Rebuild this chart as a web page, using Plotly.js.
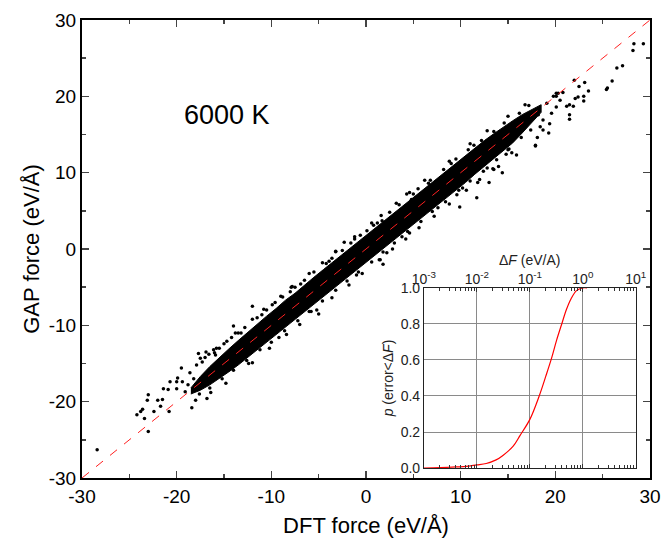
<!DOCTYPE html>
<html><head><meta charset="utf-8">
<script src="https://cdn.plot.ly/plotly-3.0.1.min.js"></script>
<style>html,body{margin:0;padding:0;background:#fff}#c{width:667px;height:552px}</style>
</head><body><div id="c"></div>
<script>
// Dense core of the scatter band (envelope)
var bandX     = [-18.5,-17.5,-16.5,-15.5,-14.5,-13.5,-12.5,-11.5,-10.5,-9.5,-8.5,-7.5,-6.5,-5.5,-4.5,-3.5,-2.5,-1.5,-0.5,0.5,1.5,2.5,3.5,4.5,5.5,6.5,7.5,8.5,9.5,10.5,11.5,12.5,13.5,14.5,15.5,16.5,17.5,18.5];
var bandUpper = [-18.2,-16.7,-15.4,-14.2,-13.1,-12.0,-10.9,-9.9,-8.8,-7.8,-6.7,-5.8,-4.7,-3.7,-2.7,-1.7,-0.7,0.3,1.3,2.3,3.3,4.3,5.3,6.3,7.3,8.2,9.3,10.3,11.2,12.3,13.2,14.2,15.1,16.0,16.8,17.6,18.3,18.9];
var bandLower = [-19.0,-18.5,-17.8,-17.0,-16.1,-15.2,-14.2,-13.3,-12.3,-11.3,-10.3,-9.3,-8.3,-7.3,-6.3,-5.3,-4.3,-3.3,-2.3,-1.3,-0.3,0.7,1.7,2.7,3.7,4.7,5.7,6.7,7.7,8.7,9.8,10.8,11.9,12.9,13.9,15.2,16.5,17.9];
// Individual points around the band (DFT force, GAP force)
var ptsX = [-28.4,-24.2,-23.6,-23.8,-23.4,-23.0,-23.0,-23.1,-22.4,-22.0,-21.7,-21.4,-21.5,-20.8,-20.7,-20.9,-20.0,-19.9,-19.5,-20.0,-19.4,-19.1,-18.4,-18.8,-18.0,-17.9,-17.7,-17.3,-16.9,-17.5,-16.1,-15.9,-14.7,-14.0,-12.0,-9.9,-7.9,-6.9,-5.0,-3.2,-2.3,-1.2,0.1,1.7,2.2,1.5,1.8,4.3,4.6,6.6,4.8,9.9,11.7,9.6,11.8,13.0,13.5,14.0,14.4,15.1,15.9,17.9,19.3,18.7,15.9,14.1,20.1,19.8,19.1,18.2,29.3,28.3,28.2,27.1,26.5,26.0,25.5,25.4,23.5,23.1,22.5,22.0,23.0,23.0,22.4,22.1,21.5,21.2,21.9,21.5,21.5,20.8,20.3,20.1,20.5,20.1,19.6,18.7,18.1,17.9,19.4,
  -16.0,-15.5,-14.2,-13.5,-12.8,-11.5,-10.5,-9.6,-8.8,-7.5,-6.5,-5.5,-4.2,-3.6,-2.5,-1.6,-0.6,0.8,2.5,3.5,5.5,6.8,8.2,9.5,10.8,12.2,13.5,14.6,16.2,17.2,
  -17.6,-16.5,-15.2,-14.0,-12.6,-11.2,-10.0,-8.6,-7.2,-6.0,-4.6,-3.2,-2.0,-0.8,0.6,1.8,3.0,4.4,5.8,7.0,8.4,9.8,11.0,12.4,13.8,15.0,16.4,17.4,
  -18.6,-18.2,-17.0,-16.4,-15.0,-13.2,-12.4,-11.0,-9.2,-8.0,-5.8,-3.9,-1.0,1.2,3.8,5.0,7.6,9.0,10.2,11.4,12.8,14.8,16.8,18.4,
  -16.6,-15.8,-13.8,-12.0,-10.8,-9.0,-7.8,-6.0,-4.6,-3.2,-1.2,0.6,1.6,3.2,4.6,6.2,8.8,11.0,12.8,15.0,
  -16.8,-14.8,-12.0,-10.2,-8.4,-7.0,-5.2,-3.6,-1.8,-0.4,1.4,2.8,4.2,5.6,7.2,8.8,10.6,12.0,13.4,15.4];
var ptsY = [-26.3,-21.7,-21.0,-21.3,-22.2,-23.9,-19.1,-19.8,-21.3,-19.8,-20.6,-18.3,-19.7,-21.3,-17.4,-18.4,-18.3,-16.9,-15.6,-17.4,-17.4,-18.7,-20.8,-17.8,-19.8,-15.2,-13.7,-14.8,-13.5,-14.3,-13.2,-13.9,-12.1,-10.1,-7.5,-7.3,-5.0,-4.6,-8.5,-0.35,0.9,1.3,2.4,3.7,-0.5,-1.4,-2.0,7.2,2.1,8.6,6.5,5.5,6.7,7.1,8.7,8.7,10.4,10.8,10.0,13.1,12.3,13.6,15.2,15.6,16.5,15.4,20.4,20.0,19.1,17.6,26.9,26.9,26.0,24.0,23.7,22.0,21.1,20.9,20.7,21.8,21.3,22.1,20.0,19.4,19.9,19.7,18.9,18.7,18.7,17.6,17.0,20.5,20.4,20.0,19.5,18.6,17.8,16.9,14.6,13.5,16.4,
  -13.6,-13.0,-11.6,-11.0,-10.3,-9.0,-8.0,-7.0,-6.3,-5.0,-4.1,-3.0,-1.9,-1.2,-0.2,0.8,1.8,3.1,4.8,5.8,7.9,9.0,10.4,11.8,13.0,14.2,15.4,16.5,17.8,18.8,
  -19.0,-18.2,-17.0,-15.9,-14.6,-13.2,-12.2,-10.7,-9.4,-8.2,-6.8,-5.4,-4.2,-3.0,-1.7,-0.4,0.8,2.3,3.6,4.9,6.2,7.7,8.9,10.2,11.7,13.0,14.6,15.6,
  -16.2,-17.0,-14.2,-18.8,-12.4,-11.0,-15.0,-8.6,-11.6,-5.6,-8.2,-1.6,-3.4,3.4,1.6,7.2,5.4,11.2,8.0,13.6,10.6,12.4,18.9,16.0,
  -13.8,-13.0,-11.0,-9.2,-7.9,-6.2,-4.9,-3.2,-1.8,-0.3,1.6,3.4,4.4,6.0,7.4,9.0,11.5,13.8,15.5,17.4,
  -19.6,-17.6,-14.9,-13.0,-11.2,-9.9,-8.0,-6.4,-4.7,-3.2,-1.4,0.0,1.3,2.8,4.3,5.9,7.7,9.1,10.5,12.6];
// Parity line
var lineX = [-30, 30];
var lineY = [-30, 30];
// Inset: cumulative distribution of the force error
var cdfX = [0.001,0.002,0.004,0.007,0.01,0.015,0.023,0.031,0.048,0.065,0.1,0.15,0.2,0.257,0.32,0.4,0.49,0.6,0.76,1.0,1.2];
var cdfY = [0.0,0.002,0.006,0.011,0.017,0.025,0.045,0.07,0.12,0.18,0.27,0.40,0.51,0.61,0.71,0.80,0.88,0.94,0.985,1.0,1.0];
var insetTickVals = [0.001,0.01,0.1,1,10];
var insetTickText = ['10<sup>-3</sup>','10<sup>-2</sup>','10<sup>-1</sup>','10<sup>0</sup>','10<sup>1</sup>'];
var insetYTicks = [0,0.2,0.4,0.6,0.8,1.0];
var mainTicks = [-30,-20,-10,0,10,20,30];
var mainTickText = ['-30','-20','-10','0','10','20','30'];

var polyX = bandX.concat(bandX.slice().reverse());
var polyY = bandUpper.concat(bandLower.slice().reverse());
var minorVals = [];
for (var d = 0; d < 4; d++) for (var k = 2; k <= 9; k++) minorVals.push(k * insetTickVals[d]);

var FONT = 'Arial, "Liberation Sans", sans-serif';
var traces = [
  {x: polyX, y: polyY, type:'scatter', mode:'lines', fill:'toself', fillcolor:'#000',
   line:{color:'#000', width:1}, hoverinfo:'skip', showlegend:false, xaxis:'x', yaxis:'y'},
  {x: ptsX, y: ptsY, type:'scatter', mode:'markers', marker:{color:'#000', size:3.5},
   showlegend:false, xaxis:'x', yaxis:'y'},
  {x: lineX, y: lineY, type:'scatter', mode:'lines', line:{color:'#ff2020', width:1, dash:'dash'},
   showlegend:false, xaxis:'x', yaxis:'y'},
  {x: cdfX, y: cdfY, type:'scatter', mode:'lines', line:{color:'#ff0000', width:1.2, shape:'spline'},
   showlegend:false, xaxis:'x2', yaxis:'y2', cliponaxis:false}
];

var layout = {
  width:667, height:552,
  margin:{l:82, r:17, t:20, b:74},
  paper_bgcolor:'#fff', plot_bgcolor:'rgba(0,0,0,0)',
  font:{family:FONT, color:'#000'},
  showlegend:false,
  xaxis:{domain:[0,1], range:[-30,30], tickvals:mainTicks, ticktext:mainTickText, ticks:'inside', ticklen:7, tickwidth:1.5,
    minor:{dtick:5, tick0:0, ticks:'inside', ticklen:4, tickwidth:1.5, showgrid:false},
    showline:true, linewidth:2, linecolor:'#000', mirror:'ticks', showgrid:false, zeroline:false,
    tickfont:{size:19, family:FONT}, title:{text:'DFT force (eV/Å)', font:{size:22, family:FONT}, standoff:12}},
  yaxis:{domain:[0,1], range:[-30,30], tickvals:mainTicks, ticktext:mainTickText, ticks:'inside', ticklen:7, tickwidth:1.5,
    minor:{dtick:5, tick0:0, ticks:'inside', ticklen:4, tickwidth:1.5, showgrid:false},
    showline:true, linewidth:2, linecolor:'#000', mirror:'ticks', showgrid:false, zeroline:false,
    tickfont:{size:19, family:FONT}, title:{text:'GAP force (eV/Å)', font:{size:22, family:FONT}, standoff:3}},
  xaxis2:{domain:[0.602,0.975], anchor:'y2', type:'log', range:[-3,1], side:'top',
    tickvals:insetTickVals, ticktext:insetTickText, ticks:'inside', ticklen:4, tickcolor:'#333',
    ticklabelstandoff:-3,
    minor:{tickvals:minorVals, ticks:'inside', ticklen:3, tickcolor:'#333', showgrid:false},
    showline:true, linecolor:'#222', linewidth:1, mirror:'ticks',
    showgrid:true, gridcolor:'#8a8a8a', gridwidth:1, zeroline:false,
    tickfont:{size:14, family:FONT, color:'#222'}},
  yaxis2:{domain:[0.0218,0.415], anchor:'x2', range:[0,1], tickvals:insetYTicks,
    tickformat:'.1f', ticks:'', showline:true, linecolor:'#222', linewidth:1, mirror:true,
    showgrid:true, gridcolor:'#8a8a8a', gridwidth:1, zeroline:false,
    tickfont:{size:14, family:FONT, color:'#222'},
    title:{text:'<i>p</i> (error&lt;Δ<i>F</i>)', font:{size:14, family:FONT, color:'#222'}, standoff:3}},
  annotations:[
    {xref:'x', yref:'y', x:-14.7, y:17.6, text:'6000 K', showarrow:false,
     font:{size:27, family:FONT, color:'#000'}},
    {xref:'paper', yref:'paper', x:0.7885, y:0.476, text:'Δ<i>F</i> (eV/A)', showarrow:false,
     xanchor:'center', yanchor:'middle', font:{size:14, family:FONT, color:'#222'}}
  ]
};
Plotly.newPlot('c', traces, layout, {displayModeBar:false, staticPlot:true});
</script></body></html>
